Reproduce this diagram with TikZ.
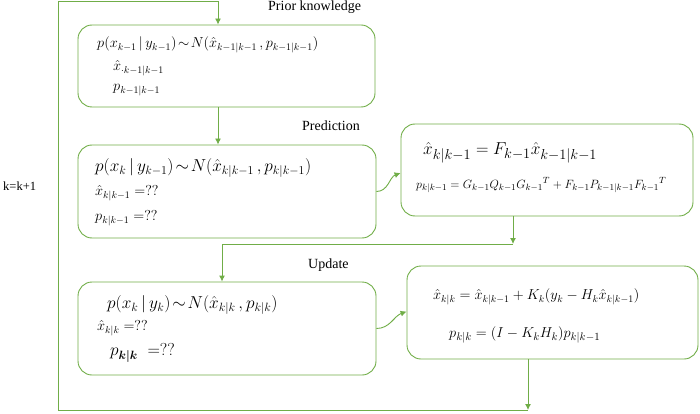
\documentclass[tikz,border=0pt]{standalone}
\usepackage{amsmath}
\usepackage{xcolor}
\usepackage{fontspec}
\setmainfont{Liberation Serif}
\usepackage{tikz}
\usetikzlibrary{calc,arrows.meta,positioning}
\definecolor{boxgreen}{RGB}{112,173,71}

\begin{document}
\begin{tikzpicture}[x=1pt,y=-1pt,
  box/.style={draw=boxgreen,line width=0.9pt,rounded corners=14pt,inner sep=0pt},
  flow/.style={draw=boxgreen,line width=0.9pt,-{Latex[length=6pt,width=6pt]}},
  line/.style={anchor=west,inner sep=0pt},
  title/.style={anchor=base west,inner sep=0pt,font=\fontsize{14}{16}\selectfont}]
  \useasboundingbox (0,0) rectangle (700,414);
  % 左侧四个框
  \node[box,minimum width=297pt,minimum height=82pt] (priorbox) at (226.5,66) {};
  \node[box,minimum width=298pt,minimum height=93pt] (predbox) at (227,191.5) {};
  \node[box,minimum width=298pt,minimum height=93pt] (updbox) at (227,328.5) {};
  % 右侧两个计算框
  \node[box,minimum width=292pt,minimum height=92pt] (predcalc) at (547,170) {};
  \node[box,minimum width=291pt,minimum height=93pt] (updcalc) at (552.5,312.5) {};

  \node[title] (priortitle) at (268,11) {Prior knowledge};
  \node[title] (predtitle) at (302,131) {Prediction};
  \node[title] (updtitle) at (308,268) {Update};
  \node[line,font=\fontsize{12.5}{14}\selectfont] (kstep) at (3,186) {k=k+1};

  \begin{scope}[font=\fontsize{14}{16}\selectfont]
    \node[line] (priorA) at (97,45) {$p(x_{k-1}\,|\,y_{k-1})\!\sim\! N(\hat{x}_{k-1|k-1}\,,p_{k-1|k-1})$};
    \node[line] (priorB) at (113,68) {$\hat{x}_{\cdot k-1|k-1}$};
    \node[line] (priorC) at (113,90) {$p_{k-1|k-1}$};
    \node[line] (predB) at (95,193) {$\hat{x}_{k|k-1}=??$};
    \node[line] (predC) at (95,218) {$p_{k|k-1}=??$};
    \node[line] (updB) at (97,328) {$\hat{x}_{k|k}=??$};
  \end{scope}
  \node[line,font=\fontsize{17}{19}\selectfont] (predA) at (95,168) {$p(x_k\,|\,y_{k-1})\!\sim\! N(\hat{x}_{k|k-1}\,,p_{k|k-1})$};
  \node[line,font=\fontsize{16.5}{18}\selectfont] (updA) at (107,305) {$p(x_k\,|\,y_k)\!\sim\! N(\hat{x}_{k|k}\,,p_{k|k})$};
  \node[line,font=\fontsize{17}{19}\selectfont] (updC) at (110,353) {$p_{\boldsymbol{k|k}}\;=??$};
  \node[line,font=\fontsize{19}{21}\selectfont] (predcalcA) at (423,153) {$\hat{x}_{k|k-1}=F_{k-1}\hat{x}_{k-1|k-1}$};
  \node[line,font=\fontsize{13}{15}\selectfont] (predcalcB) at (416,185) {$p_{k|k-1}=G_{k-1}Q_{k-1}{G_{k-1}}^T+F_{k-1}P_{k-1|k-1}{F_{k-1}}^T$};
  \node[line,font=\fontsize{14.5}{16}\selectfont] (updcalcA) at (433,297) {$\hat{x}_{k|k}=\hat{x}_{k|k-1}+K_k(y_k-H_k\hat{x}_{k|k-1})$};
  \node[line,font=\fontsize{15}{17}\selectfont] (updcalcB) at (449,335) {$p_{k|k}=(I-K_kH_k)p_{k|k-1}$};

  % 连线
  \coordinate (loopend) at (528,410);
  \coordinate (midjoin) at (513,244);
  \draw[flow] (218,0 |- priorbox.south) -- (218,0 |- predbox.north);
  \draw[flow] (predbox.east) to[out=0,in=200] ([yshift=-3pt]predcalc.west);
  \draw[flow] (513,0 |- predcalc.south) -- (midjoin);
  \draw[flow] (midjoin) -- (222,244) -- (222,0 |- updbox.north);
  \draw[flow] (updbox.east) to[out=0,in=200] ([yshift=1pt]updcalc.west);
  \draw[flow] (528,0 |- updcalc.south) -- (loopend);
  \draw[flow] (loopend) -- (58,410) -- (58,1.5) -- (218,1.5) -- (218,0 |- priorbox.north);
\end{tikzpicture}
\end{document}
